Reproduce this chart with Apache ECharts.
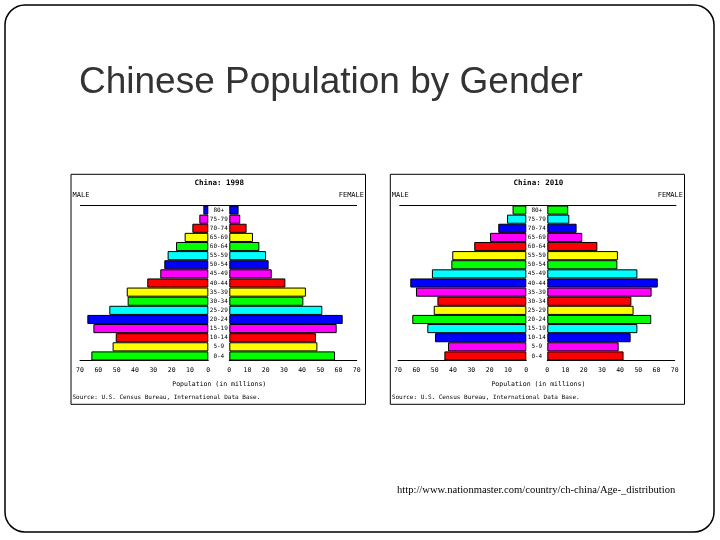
<!DOCTYPE html>
<html>
<head>
<meta charset="utf-8">
<script src="https://cdn.jsdelivr.net/npm/echarts@6/dist/echarts.min.js"></script>
<style>html,body{margin:0;padding:0;background:#fff}#c{width:720px;height:540px}</style>
</head>
<body>
<div id="c"></div>
<script>
// Age groups, bottom to top
var ages = ['0-4','5-9','10-14','15-19','20-24','25-29','30-34','35-39','40-44','45-49','50-54','55-59','60-64','65-69','70-74','75-79','80+'];
// Population in millions
var male1998   = [63.8, 52.2, 50.5, 62.7, 66.0, 54.0, 44.0, 44.5, 33.3, 26.2, 24.0, 22.2, 17.6, 12.9, 8.7, 4.9, 2.7];
var female1998 = [58.1, 48.4, 47.6, 59.0, 62.3, 51.1, 40.7, 42.1, 30.8, 23.3, 21.6, 20.2, 16.5, 13.0, 9.5, 6.0, 5.1];
var male2010   = [44.7, 42.7, 49.8, 54.0, 62.2, 50.5, 48.5, 60.2, 63.3, 51.5, 40.9, 40.4, 28.4, 19.8, 15.3, 10.5, 7.5];
var female2010 = [41.9, 39.2, 45.8, 49.5, 57.1, 47.4, 46.2, 57.3, 60.7, 49.5, 38.5, 38.8, 27.5, 19.2, 16.1, 12.1, 11.5];
var chartTitles = ['China: 1998', 'China: 2010'];

var pal1998 = ['#00ff00','#ffff00','#ff0000','#ff00ff','#0000ff','#00ffff'];
var pal2010 = ['#ff0000','#ff00ff','#0000ff','#00ffff','#00ff00','#ffff00'];

var MONO = 'DejaVu Sans Mono';
var chart = echarts.init(document.getElementById('c'));

var top0 = 205.5, h0 = 155;
var grids = [
  {left: 80, top: top0, width: 128.3, height: h0},
  {left: 229.3, top: top0, width: 127.4, height: h0},
  {left: 398, top: top0, width: 128.3, height: h0},
  {left: 547.3, top: top0, width: 127.4, height: h0}
];

function xAx(i, inv) {
  return {
    gridIndex: i, type: 'value', min: 0, max: 70, interval: 10, inverse: inv,
    splitLine: {show: false},
    axisLine: {show: true, lineStyle: {color: '#000', width: 1}},
    axisTick: {show: false},
    axisLabel: {color: '#000', fontFamily: MONO, fontSize: 6.5, margin: 6}
  };
}
function yAx(i, showLabels) {
  return {
    gridIndex: i, type: 'category', data: ages, position: showLabels ? 'left' : 'right',
    axisLine: {show: false}, axisTick: {show: false},
    axisLabel: {show: showLabels, color: '#000', fontFamily: MONO, fontSize: 6, align: 'center', margin: 10.5, interval: 0}
  };
}
function ser(i, data, pal) {
  return {
    type: 'bar', xAxisIndex: i, yAxisIndex: i, data: data, barCategoryGap: '0%',
    silent: true,
    itemStyle: {
      borderColor: '#000', borderWidth: 1,
      color: function (p) { return pal[p.dataIndex % pal.length]; }
    }
  };
}

function boxGraphics(x0, x1, title) {
  var cx = (x0 + x1) / 2 + 1;
  var txt = function (x, y, s, align, size, bold) {
    return {type: 'text', x: x, y: y,
      style: {text: s, fill: '#000', font: (bold ? 'bold ' : '') + (size || 6.5) + 'px "' + MONO + '"', textAlign: align || 'left', textVerticalAlign: 'middle'}};
  };
  return [
    {type: 'rect', shape: {x: x0, y: 174.3, width: x1 - x0, height: 230}, style: {fill: null, stroke: '#000', lineWidth: 1}},
    txt(cx, 183, title, 'center', 7.5, true),
    txt(x0 + 1.5, 195, 'MALE', 'left', 7),
    txt(x1 - 1.5, 195, 'FEMALE', 'right', 7),
    {type: 'line', shape: {x1: x0 + 9, y1: 205.5, x2: x0 + 286, y2: 205.5}, style: {stroke: '#000', lineWidth: 1}},
    txt(cx, 384, 'Population (in millions)', 'center', 6.5),
    txt(x0 + 1.5, 397, 'Source: U.S. Census Bureau, International Data Base.', 'left', 6)
  ];
}

var graphics = [
  {type: 'rect', shape: {x: 5, y: 5, width: 709, height: 527, r: 20}, style: {fill: null, stroke: '#000', lineWidth: 1.5}},
  {type: 'text', x: 79, y: 83, style: {text: 'Chinese Population by Gender', fill: '#333', font: '37px "Liberation Sans"', textVerticalAlign: 'middle'}},
  {type: 'text', x: 397, y: 490, style: {text: 'http://www.nationmaster.com/country/ch-china/Age-_distribution', fill: '#000', font: '10.6px "Liberation Serif"', textVerticalAlign: 'middle'}}
].concat(boxGraphics(71, 365.5, chartTitles[0])).concat(boxGraphics(390.3, 684.5, chartTitles[1]));

chart.setOption({
  animation: false,
  grid: grids,
  xAxis: [xAx(0, true), xAx(1, false), xAx(2, true), xAx(3, false)],
  yAxis: [yAx(0, false), yAx(1, true), yAx(2, false), yAx(3, true)],
  series: [ser(0, male1998, pal1998), ser(1, female1998, pal1998), ser(2, male2010, pal2010), ser(3, female2010, pal2010)],
  graphic: graphics
});
</script>
</body>
</html>
